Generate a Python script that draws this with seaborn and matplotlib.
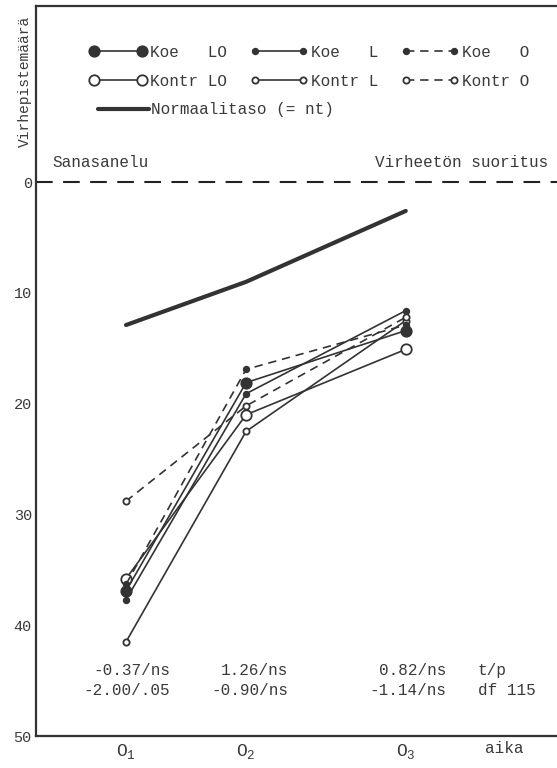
import matplotlib
matplotlib.use("Agg")
import matplotlib.pyplot as plt
import seaborn as sns
import pandas as pd

# Measurement occasions (time axis) and their x positions
occasions = ["O1", "O2", "O3"]
aika_x = [1.0, 2.0, 3.33]
tick_labels = [r"$\mathregular{O_1}$", r"$\mathregular{O_2}$", r"$\mathregular{O_3}$"]

# Error scores per group at O1, O2, O3
koe_lo = [36.9, 18.1, 13.4]
koe_l = [37.7, 19.1, 11.6]
koe_o = [36.3, 16.9, 12.9]
kontr_lo = [35.8, 21.0, 15.1]
kontr_l = [41.5, 22.5, 12.5]
kontr_o = [28.8, 20.2, 12.2]
normaalitaso = [12.9, 9.0, 2.6]

# t / p values printed under each occasion
t_p_row1 = ["-0.37/ns", "1.26/ns", "0.82/ns"]
t_p_row2 = ["-2.00/.05", "-0.90/ns", "-1.14/ns"]

y_ticks = [0, 10, 20, 30, 40, 50]

sns.set_theme(style="white")
plt.rcParams["font.family"] = ["Liberation Mono", "DejaVu Sans Mono"]
plt.rcParams["mathtext.default"] = "regular"

ink = "#333333"
text_c = "#3a3a3a"
fs = 11.5

fig = plt.figure(figsize=(5.57, 7.68), dpi=100)
ax = fig.add_axes([36 / 557, 1 - 736 / 768, 1 - 36 / 557, 730 / 768])

series = [
    ("Koe   LO", koe_lo, "-", 7.5, ink),
    ("Kontr LO", kontr_lo, "-", 7.5, "white"),
    ("Koe   L", koe_l, "-", 4.0, ink),
    ("Kontr L", kontr_l, "-", 4.5, "white"),
    ("Koe   O", koe_o, "--", 4.0, ink),
    ("Kontr O", kontr_o, "--", 4.5, "white"),
]

handles = {}
for name, vals, ls, ms, face in series:
    df = pd.DataFrame({"aika": aika_x, "virheet": vals})
    sns.lineplot(data=df, x="aika", y="virheet", ax=ax, color=ink,
                 linewidth=1.2, marker="o", markersize=ms,
                 markerfacecolor=face, markeredgecolor=ink,
                 markeredgewidth=1.3, legend=False)
    line = ax.lines[-1]
    if ls == "--":
        line.set_dashes([5, 3.5])
    handles[name] = line

df_nt = pd.DataFrame({"aika": aika_x, "virheet": normaalitaso})
sns.lineplot(data=df_nt, x="aika", y="virheet", ax=ax, color=ink,
             linewidth=3.0, legend=False)
nt_line = ax.lines[-1]

# Error-free level
ax.axhline(0, color="#222222", linewidth=1.5, dashes=(8, 5))

ax.set_xlim(0.25, 4.59)
ax.set_ylim(50, -15.9)

ax.set_yticks(y_ticks)
ax.set_yticklabels([str(v) for v in y_ticks])
ax.set_xticks(aika_x)
ax.set_xticklabels(tick_labels)
ax.tick_params(axis="y", direction="in", length=6, width=1.2, color=ink,
               labelsize=11, labelcolor=text_c, pad=3)
ax.tick_params(axis="x", direction="in", length=5, width=1.2, color=ink,
               labelsize=13, labelcolor=text_c, pad=4)

for side in ["left", "bottom", "top"]:
    ax.spines[side].set_color(ink)
    ax.spines[side].set_linewidth(1.6)
ax.spines["right"].set_visible(False)

ax.set_xlabel("")
ax.set_ylabel("")

# Axis captions
fig.text(25 / 557, 1 - 81 / 768, "Virhepistemäärä", rotation=90,
         ha="center", va="center", fontsize=10.5, color=text_c)
ax.text(4.15, 50.45, "aika", ha="center", va="top", fontsize=fs,
        color=text_c)
ax.text(0.39, -1.8, "Sanasanelu", ha="left", va="center", fontsize=fs,
        color=text_c)
ax.text(4.52, -1.8, "Virheetön suoritus", ha="right", va="center",
        fontsize=fs, color=text_c)

# t/p annotations
right_x = [1.37, 2.35, 3.67]
for x, a, b in zip(right_x, t_p_row1, t_p_row2):
    ax.text(x, 44.1, a, ha="right", va="center", fontsize=fs, color=text_c)
    ax.text(x, 45.9, b, ha="right", va="center", fontsize=fs, color=text_c)
ax.text(3.93, 44.1, "t/p", ha="left", va="center", fontsize=fs, color=text_c)
ax.text(3.93, 45.9, "df 115", ha="left", va="center", fontsize=fs,
        color=text_c)

# Group legend (3 columns x 2 rows)
order = ["Koe   LO", "Kontr LO", "Koe   L", "Kontr L", "Koe   O", "Kontr O"]
leg = ax.legend([handles[k] for k in order], order, ncol=3, numpoints=2,
                loc="upper left", bbox_to_anchor=(0.102, 0.9466),
                frameon=False, fontsize=fs, handlelength=3.6,
                handletextpad=0.2, columnspacing=1.45, labelspacing=0.86,
                borderpad=0, borderaxespad=0)
for t in leg.get_texts():
    t.set_color(text_c)
ax.add_artist(leg)

# Normal level legend row
leg2 = ax.legend([nt_line], ["Normaalitaso (= nt)"], loc="upper left",
                 bbox_to_anchor=(0.119, 0.868), frameon=False, fontsize=fs,
                 handlelength=3.2, handletextpad=0.1, borderpad=0,
                 borderaxespad=0)
for t in leg2.get_texts():
    t.set_color(text_c)

fig.savefig("out.png", dpi=100)
